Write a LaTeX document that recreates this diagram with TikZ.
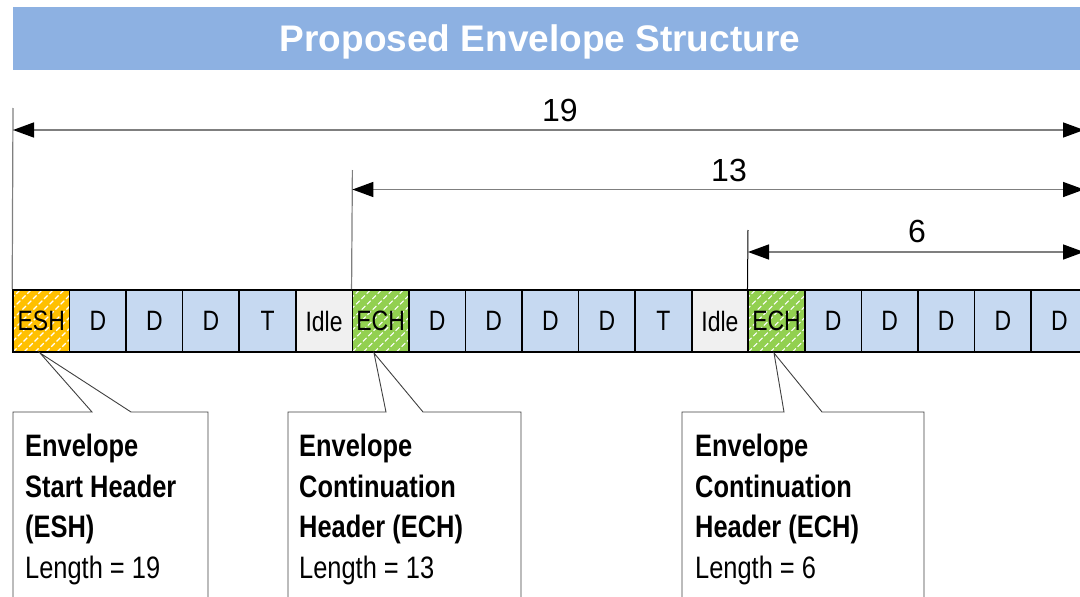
\documentclass[tikz,border=0pt]{standalone}
\usepackage{fontspec}
\setmainfont{Liberation Sans}
\newfontfamily\narrowfont[FakeStretch=0.82]{Liberation Sans}
\usetikzlibrary{arrows.meta,calc}

\definecolor{banner}{HTML}{8DB1E2}
\definecolor{dataBlue}{HTML}{C6D9F1}
\definecolor{idleGrey}{HTML}{F0F0F0}
\definecolor{eshOrange}{HTML}{FFC000}
\definecolor{echGreen}{HTML}{92D050}
\definecolor{dimGrey}{HTML}{7F7F7F}
\definecolor{calloutLine}{HTML}{404040}

\begin{document}
\begin{tikzpicture}[x=1pt,y=-1pt,
  cell/.style={draw=black,line width=1.6pt,minimum width=56.56pt,minimum height=62pt,
    inner sep=0pt,font=\narrowfont\fontsize{28}{32}\selectfont},
  data/.style={fill=dataBlue},
  idle/.style={fill=idleGrey},
  hatch/.style={path picture={
    \foreach \k in {-77,-66,...,77}
      \draw[white,line width=1.1pt,dash pattern=on 5pt off 2.5pt]
        ($(path picture bounding box.south west)+(\k pt,0pt)$) -- ++(80pt,80pt);}},
  esh/.style={fill=eshOrange,hatch},
  ech/.style={fill=echGreen,hatch},
  dimline/.style={draw=dimGrey,line width=1.5pt,
    {Triangle[length=21pt,width=15pt,fill=black,color=black]}-{Triangle[length=21pt,width=15pt,fill=black,color=black]}},
  extline/.style={draw=dimGrey,line width=1.2pt},
  dimlabel/.style={anchor=base,font=\fontsize{32}{38}\selectfont},
  callout/.style={draw=calloutLine,line width=0.9pt,fill=white},
  calltext/.style={anchor=base west,inner sep=0pt,font=\narrowfont\fontsize{31}{40}\selectfont},
  callbold/.style={calltext,font=\narrowfont\bfseries\fontsize{31}{40}\selectfont}
]
\useasboundingbox (0,0) rectangle (1080,597);
\clip (0,0) rectangle (1080,597);

% title banner
\fill[banner] (13,7) rectangle (1090,70);
\node[anchor=base,text=white,font=\bfseries\fontsize{37}{44}\selectfont] (title) at (540,51) {Proposed Envelope Structure};

% frame sequence
\foreach \lab/\kind [count=\i from 0] in
  {ESH/esh,D/data,D/data,D/data,T/data,Idle/idle,ECH/ech,D/data,D/data,D/data,D/data,T/data,Idle/idle,ECH/ech,D/data,D/data,D/data,D/data,D/data}
  \node[cell,\kind] (c\i) at ({13+(\i+0.5)*56.56},321) {\lab};

% dimension extension lines
\coordinate (e19) at (13,108);
\coordinate (e13) at (352.4,170);
\coordinate (e6) at (748,230);
\draw[extline] (e19) -- (c0.north west);
\draw[extline] (e13) -- (c6.north west);
\draw[draw=black,line width=1pt] (e6) -- (c13.north west);

% dimension arrows
\coordinate (a19l) at (13,130);   \coordinate (a19r) at (1084,130);
\coordinate (a13l) at (352.4,189.5); \coordinate (a13r) at (1084,189.5);
\coordinate (a6l) at (748,252);   \coordinate (a6r) at (1084,252);
\draw[dimline] (a19l) -- (a19r);
\draw[dimline] (a13l) -- (a13r);
\draw[dimline] (a6l) -- (a6r);
\node[dimlabel] (l19) at (560,121) {19};
\node[dimlabel] (l13) at (729,181) {13};
\node[dimlabel] (l6) at (917,242) {6};

% callouts
\coordinate (p1) at (40,353);
\coordinate (p2) at (374,353);
\coordinate (p3) at (774,353);
\draw[callout] (13,605) -- (13,412) -- (92,412) -- (p1) -- (131,412) -- (208,412) -- (208,605);
\draw[callout] (288,605) -- (288,412) -- (386,412) -- (p2) -- (423,412) -- (521,412) -- (521,605);
\draw[callout] (682,605) -- (682,412) -- (784,412) -- (p3) -- (822,412) -- (924,412) -- (924,605);

\node[callbold] (t1a) at (25,456) {Envelope};
\node[callbold] (t1b) at (25,497) {Start Header};
\node[callbold] (t1c) at (25,537) {(ESH)};
\node[calltext] (t1d) at (25,578) {Length = 19};

\node[callbold] (t2a) at (299,456) {Envelope};
\node[callbold] (t2b) at (299,497) {Continuation};
\node[callbold] (t2c) at (299,537) {Header (ECH)};
\node[calltext] (t2d) at (299,578) {Length = 13};

\node[callbold] (t3a) at (695,456) {Envelope};
\node[callbold] (t3b) at (695,497) {Continuation};
\node[callbold] (t3c) at (695,537) {Header (ECH)};
\node[calltext] (t3d) at (695,578) {Length = 6};
\end{tikzpicture}
\end{document}
